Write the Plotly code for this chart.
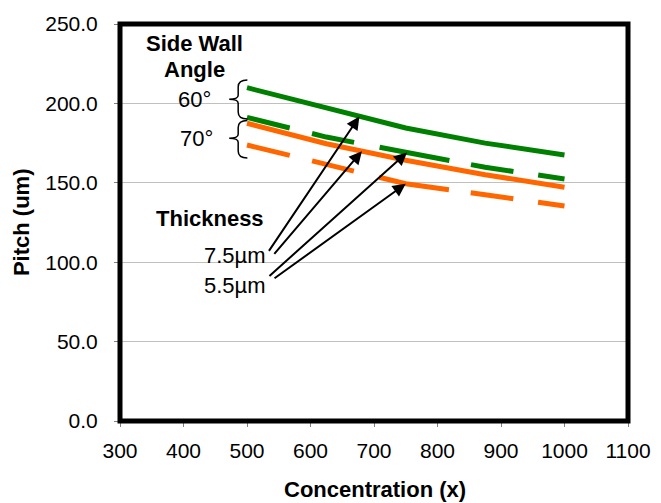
import numpy as np
import plotly.graph_objects as go

# ---------------- data ----------------
concentration = [500, 625, 750, 875, 1000]
pitch_60deg_7_5um = [209.9, 196.9, 184.5, 175.0, 167.5]
pitch_60deg_5_5um = [191.2, 178.8, 169.2, 159.8, 152.4]
pitch_70deg_7_5um = [187.5, 174.6, 164.2, 155.1, 147.2]
pitch_70deg_5_5um = [173.8, 161.3, 149.4, 142.5, 135.4]

x_tick_vals = [300, 400, 500, 600, 700, 800, 900, 1000, 1100]
y_tick_vals = [0, 50, 100, 150, 200, 250]
y_tick_text = ["0.0", "50.0", "100.0", "150.0", "200.0", "250.0"]

# ---------------- layout geometry (page pixels; page body has an 8px margin) ----------------
OFF = 8
W, H = 661 - OFF, 503 - OFF
PL, PR, PT, PB = 120, 628.5, 24, 421          # plot area edges in page pixels
L, T = PL - OFF, PT - OFF
R, B = W - (PR - OFF), H - (PB - OFF)
PW, PH = PR - PL, PB - PT
FONT = "Liberation Sans, Arial, sans-serif"
GREEN = "#008000"
ORANGE = "#FF6600"
DASH = "44px,23px,43px,26px,71px,22px,43px,25px,30px,20px"


def paper(px, py):
    return (px - PL) / PW, (PB - py) / PH


fig = go.Figure()
series = [
    (pitch_60deg_7_5um, GREEN, "solid", "60°, 7.5µm"),
    (pitch_60deg_5_5um, GREEN, DASH, "60°, 5.5µm"),
    (pitch_70deg_7_5um, ORANGE, "solid", "70°, 7.5µm"),
    (pitch_70deg_5_5um, ORANGE, DASH, "70°, 5.5µm"),
]
for ys, col, dash, name in series:
    fig.add_trace(go.Scatter(x=concentration, y=ys, mode="lines", name=name,
                             line=dict(color=col, width=5, dash=dash),
                             showlegend=False, hoverinfo="x+y+name"))

annotations = []


def text(px, py, s, bold=False, size=22):
    x, y = paper(px, py)
    annotations.append(dict(x=x, y=y, xref="paper", yref="paper",
                            text=f"<b>{s}</b>" if bold else s, showarrow=False,
                            xanchor="center", yanchor="middle",
                            font=dict(family=FONT, size=size, color="black")))


text(195, 43, "Side Wall", bold=True)
text(195, 70, "Angle", bold=True)
text(195, 99, "60°")
text(197, 138, "70°")
text(210, 218, "Thickness", bold=True)
text(235, 255, "7.5µm")
text(235, 285, "5.5µm")

# axis titles
text(375, 490, "Concentration (x)", bold=True)
ax_t = paper(22, 222)
annotations.append(dict(x=ax_t[0], y=ax_t[1], xref="paper", yref="paper",
                        text="<b>Pitch (um)</b>", showarrow=False, textangle=-90,
                        xanchor="center", yanchor="middle",
                        font=dict(family=FONT, size=22, color="black")))

# arrows from thickness labels to the curves (tips read from the data)
arrow_specs = [
    (pitch_60deg_7_5um, 677, 533, 106.2),
    (pitch_70deg_7_5um, 681, 541, 104.3),
    (pitch_60deg_5_5um, 752, 533, 90.5),
    (pitch_70deg_5_5um, 750, 541, 89.2),
]
for ys, tipx, tx, ty in arrow_specs:
    tipy = float(np.interp(tipx, concentration, ys))
    annotations.append(dict(x=tipx, y=tipy, xref="x", yref="y", ax=tx, ay=ty,
                            axref="x", ayref="y", text="", showarrow=True,
                            arrowhead=2, arrowsize=1.3, arrowwidth=2,
                            arrowcolor="black", standoff=0))

shapes = []


def brace(y_top, y_tip, y_bot, x_end=247.5, x_spine=238.3, x_tip=229.3):
    def p(px, py):
        a, b = paper(px, py)
        return f"{a:.5f},{b:.5f}"
    r = 7
    path = (f"M{p(x_end, y_top)} Q{p(x_spine, y_top)} {p(x_spine, y_top + r)} "
            f"L{p(x_spine, y_tip - 4)} Q{p(x_spine, y_tip)} {p(x_tip, y_tip)} "
            f"Q{p(x_spine, y_tip)} {p(x_spine, y_tip + 4)} "
            f"L{p(x_spine, y_bot - r)} Q{p(x_spine, y_bot)} {p(x_end, y_bot)}")
    shapes.append(dict(type="path", path=path, xref="paper", yref="paper",
                       line=dict(color="black", width=1.5)))


brace(80, 99.3, 119)
brace(120.5, 138.3, 158)

# thick plot-area border
shapes.append(dict(type="rect", xref="paper", yref="paper", x0=0, y0=0, x1=1, y1=1,
                   line=dict(color="black", width=5), layer="above"))

fig.update_layout(
    width=W, height=H,
    margin=dict(l=L, r=R, t=T, b=B, autoexpand=False),
    paper_bgcolor="white", plot_bgcolor="white",
    font=dict(family=FONT, size=21, color="black"),
    annotations=annotations, shapes=shapes,
    xaxis=dict(range=[300, 1100], tickvals=x_tick_vals, ticks="outside", ticklen=5,
               tickcolor="#808080", showgrid=False, zeroline=False, showline=False,
               tickfont=dict(size=21), automargin=False, ticklabelstandoff=6),
    yaxis=dict(range=[0, 250], tickvals=y_tick_vals, ticktext=y_tick_text,
               ticks="outside", ticklen=5, tickcolor="#808080",
               showgrid=True, gridcolor="#C0C0C0", gridwidth=1, zeroline=False,
               showline=False, tickfont=dict(size=21), automargin=False,
               ticklabelstandoff=12),
)

fig.write_html("out.html")
